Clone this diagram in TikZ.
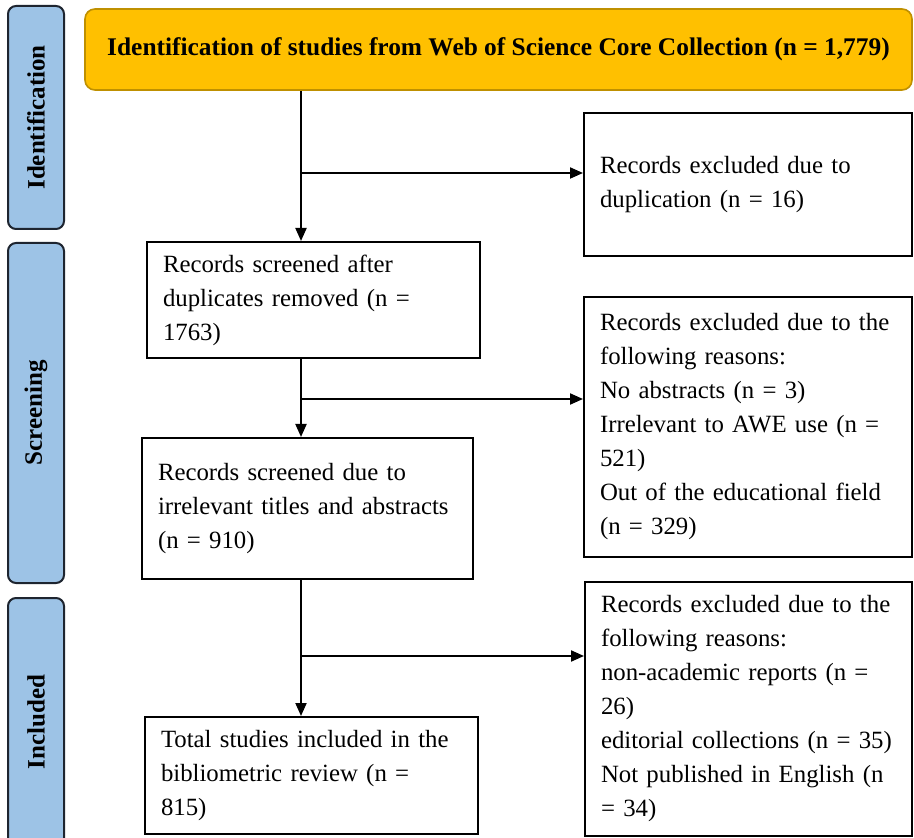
\documentclass[tikz,border=0pt]{standalone}
\usepackage{fontspec}
\setmainfont{Liberation Serif}
\usetikzlibrary{arrows.meta,positioning}
\definecolor{stageblue}{HTML}{9DC3E6}
\definecolor{stageedge}{HTML}{1E2530}
\definecolor{headergold}{HTML}{FFC000}
\definecolor{headeredge}{HTML}{BF9000}
\tikzset{
  stagelabel/.style={draw=stageedge, fill=stageblue, rounded corners=4pt, line width=1pt, rotate=90, minimum height=28pt, inner sep=0pt, font=\fontsize{12.5}{14}\selectfont\bfseries},
  headerbox/.style={draw=headeredge, fill=headergold, rounded corners=5pt, line width=0.8pt, inner sep=0pt, font=\fontsize{12.7}{14}\selectfont\bfseries},
  recordbox/.style={draw=black, line width=1pt, align=left, inner xsep=8pt, inner ysep=0pt, font=\fontsize{12.4}{17}\selectfont},
  flowarrow/.style={black, line width=1pt, -{Triangle[length=6.5pt,width=5.5pt]}}
}

\begin{document}
\begin{tikzpicture}[x=0.5pt,y=-0.5pt]
  \useasboundingbox (0,0) rectangle (914,838);
  \clip (0,0) rectangle (914,838);
  \node[stagelabel, minimum width=111.5pt] (identlbl) at (36,117.5) {Identification};
  \node[stagelabel, minimum width=170pt] (screenlbl) at (36,413) {Screening};
  \node[stagelabel, minimum width=124pt] (includelbl) at (36,722) {Included};
  \node[headerbox, minimum width=413.5pt, minimum height=40.5pt] (source) at (498.5,49.5) {Identification of studies from Web of Science Core Collection (n = 1,779)};
  \node[recordbox, text width=150.5pt, minimum height=58pt] (dedup) at (313.5,300) {Records screened after\\duplicates removed (n =\\1763)};
  \node[recordbox, text width=149.5pt, minimum height=70.5pt] (titles) at (307.5,508.5) {Records screened due to\\irrelevant titles and abstracts\\(n = 910)};
  \node[recordbox, text width=150.5pt, minimum height=58.5pt] (total) at (311.5,775.5) {Total studies included in the\\bibliometric review (n =\\815)};
  \node[recordbox, text width=148pt, minimum height=71.5pt] (exdup) at (748,184.5) {Records excluded due to\\duplication (n = 16)};
  \node[recordbox, text width=148pt, minimum height=130pt] (exscreen) at (748,427) {Records excluded due to the\\following reasons:\\No abstracts (n = 3)\\Irrelevant to AWE use (n =\\521)\\Out of the educational field\\(n = 329)};
  \node[recordbox, text width=147.5pt, minimum height=127pt] (exinclude) at (748.5,709) {Records excluded due to the\\following reasons:\\non-academic reports (n =\\26)\\editorial collections (n = 35)\\Not published in English (n\\= 34)};
  \coordinate (split1) at (301,173);
  \coordinate (split2) at (301,399);
  \coordinate (split3) at (301,656);
  \draw[flowarrow] (source.south -| split1) -- (dedup.north -| split1);
  \draw[flowarrow] (split1) -- (split1 -| exdup.west);
  \draw[flowarrow] (dedup.south -| split2) -- (titles.north -| split2);
  \draw[flowarrow] (split2) -- (split2 -| exscreen.west);
  \draw[flowarrow] (titles.south -| split3) -- (total.north -| split3);
  \draw[flowarrow] (split3) -- (split3 -| exinclude.west);
\end{tikzpicture}
\end{document}
